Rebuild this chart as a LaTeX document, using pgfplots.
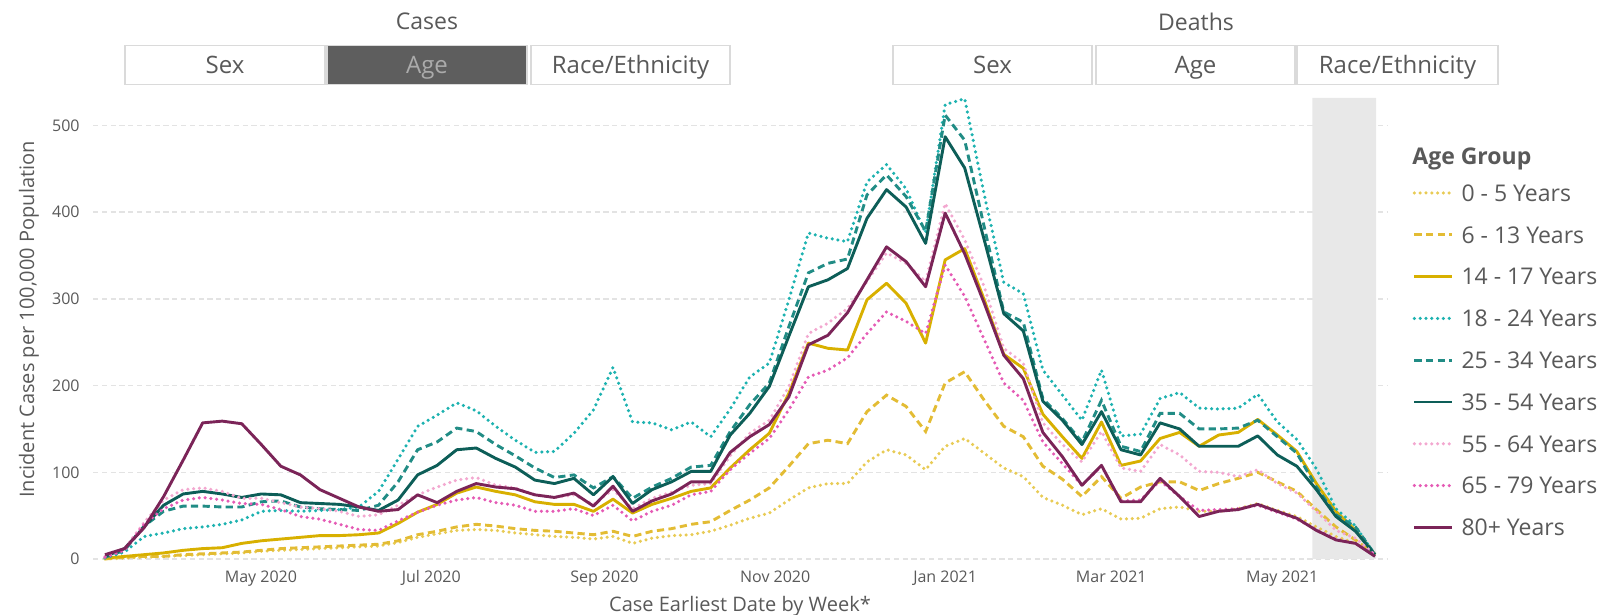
\documentclass[border=0pt]{standalone}
\usepackage{fontspec}
\setmainfont{Open Sans}
\usepackage{pgfplots}
\usepackage{pgfplotstable}
\pgfplotsset{compat=1.18}
\definecolor{cA}{HTML}{E8CB55}
\definecolor{cB}{HTML}{E3BC34}
\definecolor{cC}{HTML}{D8B000}
\definecolor{cD}{HTML}{1DB2B0}
\definecolor{cE}{HTML}{218C85}
\definecolor{cF}{HTML}{0D5E58}
\definecolor{cG}{HTML}{F3A8D0}
\definecolor{cH}{HTML}{E55BB5}
\definecolor{cI}{HTML}{7B2458}
\definecolor{txt}{HTML}{595959}
\definecolor{gridc}{HTML}{E3E3E3}
\definecolor{bandc}{HTML}{E8E8E8}
\definecolor{boxb}{HTML}{DADADA}
\definecolor{boxdark}{HTML}{5E5E5E}
\definecolor{boxdarktxt}{HTML}{ABABAB}
\pgfplotstableread{
i A B C D E F G H I
0 0 0 1 1 2 3 3 2 5
1 1 2 3 8 10 12 12 10 12
2 2 3 5 26 38 37 42 40 36
3 3 3 7 30 55 62 68 58 72
4 4 5 10 35 61 75 80 68 114
5 5 6 12 37 61 78 82 71 157
6 6 7 13 40 60 75 78 68 159
7 7 8 18 45 60 71 70 64 156
8 9 10 21 55 66 75 70 63 132
9 10 12 23 56 67 74 65 57 107
10 11 13 25 55 60 65 60 49 97
11 12 14 27 56 58 64 58 46 80
12 13 15 27 57 57 63 55 40 70
13 14 16 28 60 56 60 49 34 60
14 15 17 30 78 62 56 51 33 55
15 19 21 41 115 89 68 62 44 57
16 25 28 54 153 126 97 74 54 74
17 29 32 63 166 135 108 83 62 65
18 33 37 76 180 151 126 91 68 78
19 34 40 83 171 147 128 94 71 87
20 33 38 78 153 132 116 85 65 83
21 30 35 74 137 119 106 82 62 81
22 28 33 66 123 105 91 74 55 74
23 26 32 63 124 94 87 71 55 71
24 25 30 63 145 97 93 74 58 76
25 23 28 55 172 82 74 63 50 61
26 26 32 69 221 95 95 80 62 84
27 18 26 53 158 70 64 58 44 55
28 24 32 63 157 83 80 70 55 67
29 27 35 70 149 93 89 77 62 75
30 28 40 78 158 106 101 85 74 89
31 32 43 82 141 108 101 87 78 89
32 39 56 105 173 147 143 119 103 123
33 47 68 126 210 178 168 145 122 141
34 53 82 145 226 203 199 160 139 155
35 68 107 191 299 268 257 199 172 187
36 82 133 249 376 330 314 260 210 247
37 87 137 243 370 341 322 272 218 258
38 87 133 241 366 346 335 289 232 284
39 112 170 299 435 420 393 320 260 322
40 126 189 318 455 443 426 353 285 360
41 120 176 295 427 418 406 341 274 343
42 103 147 249 376 378 364 320 260 314
43 130 203 345 524 512 487 410 339 399
44 139 216 358 531 483 451 368 303 352
45 122 183 299 420 383 368 314 253 295
46 105 153 236 319 285 283 243 203 235
47 95 141 220 306 273 263 226 183 208
48 71 107 167 218 185 182 157 135 146
49 62 92 141 189 162 160 132 110 118
50 51 72 116 160 135 132 112 85 85
51 58 95 158 218 183 170 147 107 108
52 46 70 108 142 130 126 105 67 66
53 47 83 113 144 124 120 101 68 66
54 58 89 139 185 168 157 132 90 93
55 60 89 146 192 168 150 120 72 72
56 55 79 130 174 150 130 101 56 49
57 55 87 143 173 150 130 100 57 55
58 58 93 146 174 151 130 95 58 57
59 64 100 161 190 160 142 103 62 63
60 56 89 143 158 141 120 87 54 55
61 49 78 124 138 122 107 76 46 47
62 37 57 87 104 83 80 55 34 33
63 26 37 55 58 51 49 33 23 22
64 18 22 33 38 37 32 24 18 18
65 5 5 5 5 5 5 5 5 3
}\data
\tikzset{
  dotl/.style={line width=1.75pt, line cap=round, dash pattern=on 0pt off 2.9pt},
  dashl/.style={line width=1.45pt, dash pattern=on 3.6pt off 2.2pt},
  solidl/.style={line width=1.45pt, line join=round},
}
\begin{document}
\begin{tikzpicture}
\useasboundingbox (0pt,0pt) rectangle (810.5pt,307.5pt);
% header
\node[text=txt, font=\fontsize{11.5}{13}\selectfont] at (213.5pt,296.75pt) {Cases};
\node[text=txt, font=\fontsize{11.5}{13}\selectfont] at (598pt,296.75pt) {Deaths};
\draw[boxb, line width=0.7pt, fill=white] (62.5pt,265.35pt) rectangle (162.5pt,284.65pt);
\draw[boxb, line width=0.7pt, fill=boxdark] (163.5pt,265.35pt) rectangle (263.5pt,284.65pt);
\draw[boxb, line width=0.7pt, fill=white] (265.5pt,265.35pt) rectangle (365pt,284.65pt);
\draw[boxb, line width=0.7pt, fill=white] (446.5pt,265.35pt) rectangle (546pt,284.65pt);
\draw[boxb, line width=0.7pt, fill=white] (548pt,265.35pt) rectangle (647.5pt,284.65pt);
\draw[boxb, line width=0.7pt, fill=white] (648.5pt,265.35pt) rectangle (749pt,284.65pt);
\begin{scope}[every node/.style={font=\fontsize{12}{14}\selectfont, text=txt, anchor=base, inner sep=0pt}]
\node at (112.5pt,270.6pt) {Sex};
\node[text=boxdarktxt] at (213.5pt,270.6pt) {Age};
\node at (315.25pt,270.6pt) {Race/Ethnicity};
\node at (496.25pt,270.6pt) {Sex};
\node at (597.75pt,270.6pt) {Age};
\node at (698.75pt,270.6pt) {Race/Ethnicity};
\end{scope}
\node[anchor=base west, inner sep=0pt, text=txt, font=\fontsize{11.5}{13}\selectfont\bfseries] at (706pt,225.2pt) {Age Group};
\begin{axis}[
  at={(46.5pt,28pt)}, anchor=south west,
  scale only axis, width=647pt, height=230.5pt,
  xmin=-0.614, xmax=65.614, ymin=0, ymax=531.7,
  clip=false,
  axis line style={draw=none},
  major tick length=0pt,
  ytick={0,100,200,300,400,500},
  ymajorgrids,
  grid style={gridc, line width=0.75pt, dash pattern=on 2.6pt off 1.8pt},
  xtick={7.98,16.7,25.56,34.3,43.0,51.5,60.25},
  xticklabels={May 2020,Jul 2020,Sep 2020,Nov 2020,Jan 2021,Mar 2021,May 2021},
  /pgf/number format/assume math mode=true,
  ticklabel style={font=\fontsize{8}{9.6}\selectfont, text=txt},
  xticklabel style={anchor=base, inner sep=0pt, yshift=-12pt},
  yticklabel style={anchor=east, inner sep=0pt, xshift=-6.5pt},
  xlabel={Case Earliest Date by Week*},
  xlabel style={at={(axis description cs:0.5,0)}, anchor=base, yshift=-26.5pt, font=\fontsize{10}{12}\selectfont, text=txt},
  ylabel={Incident Cases per 100,000 Population},
  ylabel style={at={(axis description cs:-0.0495,0.5195)}, anchor=center, font=\fontsize{10}{12}\selectfont, text=txt},
  legend cell align=left,
  legend image code/.code={\draw[#1] (0pt,0pt) -- (18.7pt,0pt);},
  legend style={at={(1.0198,0.8117)}, anchor=north west, draw=none, fill=none,
    inner sep=0pt, outer sep=0pt, row sep=12.7pt, column sep=4pt,
    font=\fontsize{11.5}{13}\selectfont, text=txt,
    nodes={inner sep=0pt, text height=8.2pt, text depth=0pt}},
]
\addplot[fill=bandc, draw=none, forget plot] coordinates {(61.8,0) (61.8,531.7) (65.05,531.7) (65.05,0)} \closedcycle;
\addplot[cA, dotl] table[x=i, y=A] {\data};
\addlegendentry{0 - 5 Years}
\addplot[cB, dashl] table[x=i, y=B] {\data};
\addlegendentry{6 - 13 Years}
\addplot[cC, solidl] table[x=i, y=C] {\data};
\addlegendentry{14 - 17 Years}
\addplot[cD, dotl] table[x=i, y=D] {\data};
\addlegendentry{18 - 24 Years}
\addplot[cE, dashl] table[x=i, y=E] {\data};
\addlegendentry{25 - 34 Years}
\addplot[cF, solidl] table[x=i, y=F] {\data};
\addlegendentry{35 - 54 Years}
\addplot[cG, dotl] table[x=i, y=G] {\data};
\addlegendentry{55 - 64 Years}
\addplot[cH, dotl] table[x=i, y=H] {\data};
\addlegendentry{65 - 79 Years}
\addplot[cI, solidl] table[x=i, y=I] {\data};
\addlegendentry{80+ Years}
\end{axis}
\end{tikzpicture}
\end{document}
